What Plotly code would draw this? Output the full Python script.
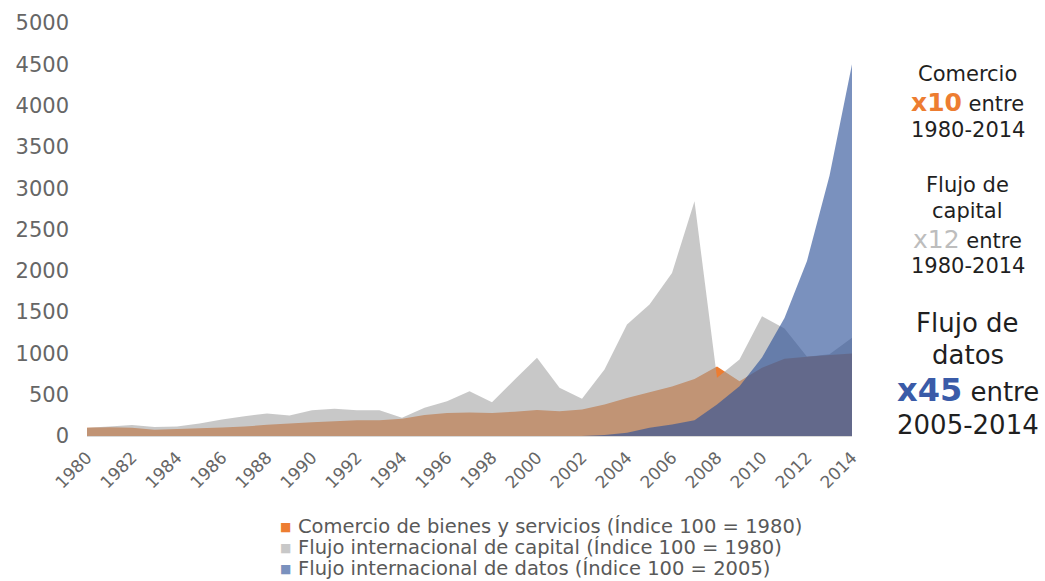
import plotly.graph_objects as go

years = list(range(1980, 2015))
comercio = [100, 105, 100, 75, 85, 95, 102, 115, 135, 150, 167, 178, 190, 190, 208,
            255, 278, 283, 278, 295, 315, 300, 320, 380, 460, 530, 600, 690, 840, 663,
            825, 934, 960, 980, 998]
capital = [100, 115, 133, 110, 115, 151, 200, 240, 272, 248, 312, 329, 312, 312, 220,
           341, 421, 542, 409, 680, 946, 583, 450, 805, 1349, 1591, 1974, 2841, 704, 925,
           1450, 1300, 960, 990, 1190]
datos = [0] * 23 + [12, 40, 100, 140, 190, 380, 603, 950, 1430, 2120, 3150, 4500]

names = ["Comercio de bienes y servicios (Índice 100 = 1980)",
         "Flujo internacional de capital (Índice 100 = 1980)",
         "Flujo internacional de datos (Índice 100 = 2005)"]
xticks = list(range(1980, 2015, 2))
yticks = list(range(0, 5001, 500))

W, H = 1045, 581
L, R, T, B = 87, 193, 23, 145
PW, PH = W - L - R, H - T - B

fig = go.Figure()
fig.add_trace(go.Scatter(x=years, y=comercio, mode="none", fill="tozeroy", name=names[0],
                         fillcolor="#ED7D31", showlegend=False, hoverinfo="skip"))
fig.add_trace(go.Scatter(x=years, y=capital, mode="none", fill="tozeroy", name=names[1],
                         fillcolor="rgba(163,163,163,0.6)", showlegend=False, hoverinfo="skip"))
fig.add_trace(go.Scatter(x=years, y=datos, mode="none", fill="tozeroy", name=names[2],
                         fillcolor="rgba(44,81,152,0.63)", showlegend=False, hoverinfo="skip"))


def px(xp):
    return (xp - L) / PW


def py(yp):
    return (H - B - yp) / PH


# legend drawn as text rows
leg_colors = ["#ED7D31", "#C8C8C8", "#7A91BE"]
leg_y = [526, 547, 568]
for n, c, yp in zip(names, leg_colors, leg_y):
    fig.add_annotation(x=px(285), y=py(yp + 1), xref="paper", yref="paper", text="■",
                       showarrow=False, xanchor="center", yanchor="middle",
                       font=dict(family="DejaVu Sans", size=12, color=c))
    fig.add_annotation(x=px(296), y=py(yp), xref="paper", yref="paper", text=n,
                       showarrow=False, xanchor="left", yanchor="middle",
                       font=dict(family="DejaVu Sans", size=19.5, color="#595959"))

dark = "#1f1f1f"
ann = [
    ("Comercio", 74, 21),
    ("<span style='color:#ED7D31;font-size:25px;font-weight:bold'>x10</span> entre", 102, 21),
    ("1980-2014", 130, 21),
    ("Flujo de", 185, 21),
    ("capital", 211, 21),
    ("<span style='color:#BDBDBD;font-size:25px'>x12</span> entre", 240, 21),
    ("1980-2014", 266, 21),
    ("Flujo de", 323, 26),
    ("datos", 355, 26),
    ("<span style='color:#3A5BA8;font-size:32px;font-weight:bold'>x45</span> entre", 390, 26),
    ("2005-2014", 425, 26),
]
for txt, yp, fs in ann:
    fig.add_annotation(x=px(968), y=py(yp), xref="paper", yref="paper", text=txt,
                       showarrow=False, xanchor="center", yanchor="middle",
                       font=dict(family="DejaVu Sans", size=fs, color=dark))

fig.update_layout(
    width=W, height=H,
    margin=dict(l=L, r=R, t=T, b=B, autoexpand=False),
    paper_bgcolor="white", plot_bgcolor="white",
    showlegend=False,
    font=dict(family="DejaVu Sans", color="#666666"),
    xaxis=dict(range=[1980, 2014], tickvals=xticks, ticktext=[str(v) for v in xticks],
               tickangle=-45, tickfont=dict(size=17, color="#666666"),
               showgrid=False, zeroline=False, showline=True, linecolor="#D9D9D9",
               linewidth=1, ticks="", ticklabelstandoff=4, automargin=False),
    yaxis=dict(range=[0, 5000], tickvals=yticks, tickfont=dict(size=21, color="#666666"),
               showgrid=False, zeroline=False, showline=False, ticks="",
               ticklabelstandoff=17, automargin=False),
)

fig.write_html("out.html", config={"displayModeBar": False},
               post_script="document.body.style.margin='0px';")
